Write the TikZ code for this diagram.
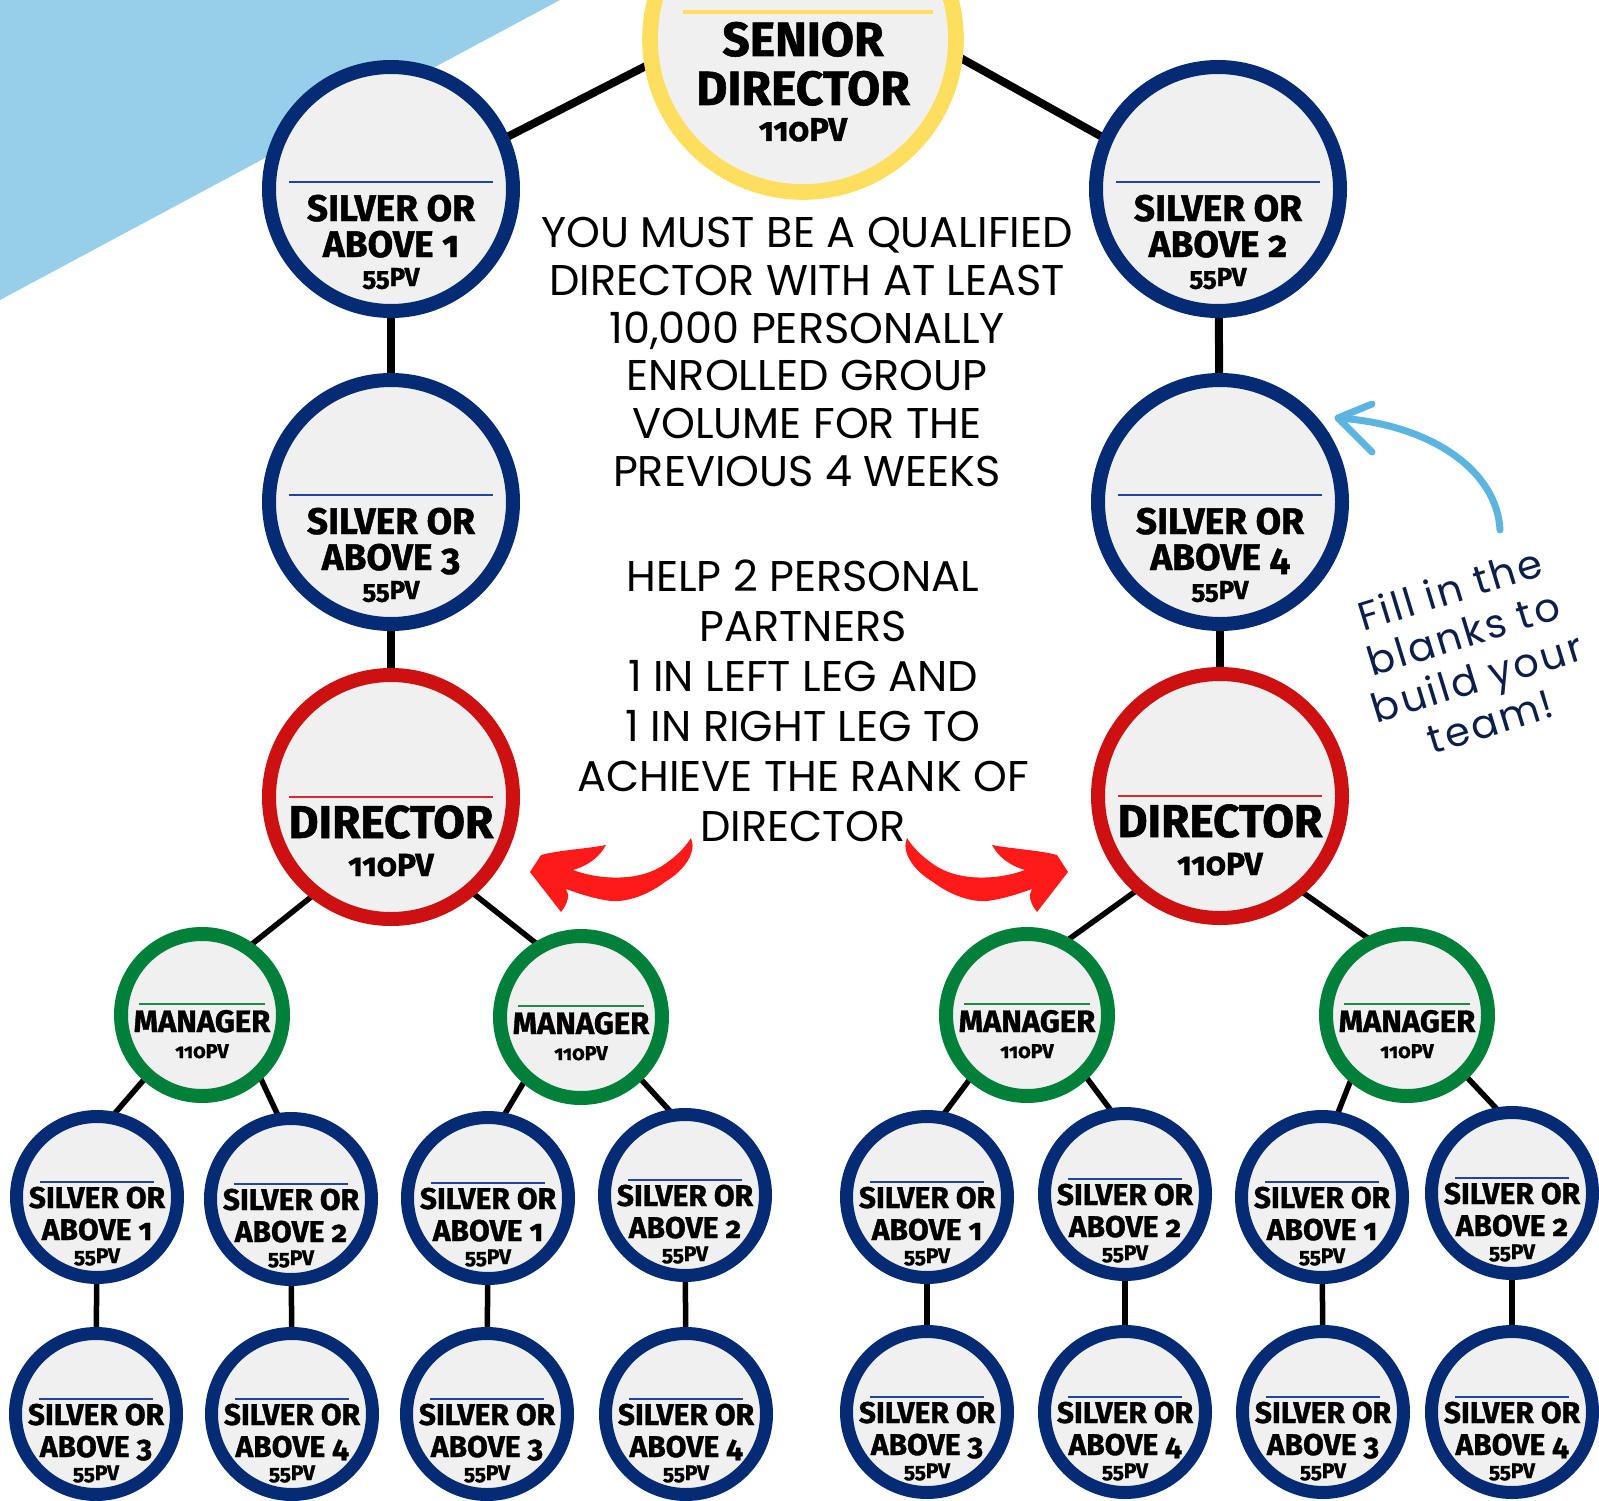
\documentclass[tikz,border=0pt]{standalone}
\usepackage{fontspec}
\setmainfont{Poppins}
\newfontfamily\lblfont[Numbers=OldStyle, BoldFeatures={FakeBold=1.2}]{Fira Sans}
\newfontfamily\bodyfont{Poppins}
\newfontfamily\handfont[LetterSpace=6]{Poppins}
\usetikzlibrary{backgrounds}

\definecolor{navy}{RGB}{4,43,116}
\definecolor{navyline}{RGB}{30,70,160}
\definecolor{dred}{RGB}{205,16,16}
\definecolor{dredline}{RGB}{225,40,40}
\definecolor{dgreen}{RGB}{0,128,56}
\definecolor{dgreenline}{RGB}{30,140,70}
\definecolor{sdyellow}{RGB}{254,222,94}
\definecolor{cfill}{RGB}{240,240,240}
\definecolor{skyblue}{RGB}{151,207,234}
\definecolor{arrowred}{RGB}{255,26,26}
\definecolor{arrowblue}{RGB}{92,180,224}
\definecolor{handnavy}{RGB}{12,30,75}

\newcommand\fSBig{\lblfont\bfseries\fontsize{37}{40}\selectfont}
\newcommand\fPVBig{\lblfont\bfseries\fontsize{26}{28}\selectfont}
\newcommand\fSSmall{\lblfont\bfseries\fontsize{30}{32}\selectfont}
\newcommand\fPVSmall{\lblfont\bfseries\fontsize{21}{23}\selectfont}
\newcommand\fDir{\lblfont\bfseries\fontsize{46}{48}\selectfont}
\newcommand\fPVDir{\lblfont\bfseries\fontsize{32}{34}\selectfont}
\newcommand\fMgr{\lblfont\bfseries\fontsize{31}{33}\selectfont}
\newcommand\fPVMgr{\lblfont\bfseries\fontsize{20}{22}\selectfont}
\newcommand\fSD{\lblfont\bfseries\fontsize{48}{50}\selectfont}
\newcommand\fPVSD{\lblfont\bfseries\fontsize{33}{35}\selectfont}

\tikzset{
  ring/.style={circle, fill=cfill, inner sep=0pt, outer sep=0pt},
  bigsilver/.style={ring, draw=navy, line width=14pt, minimum size=244pt},
  smallsilver/.style={ring, draw=navy, line width=13pt, minimum size=161pt},
  dirring/.style={ring, draw=dred, line width=14pt, minimum size=244pt},
  mgrring/.style={ring, draw=dgreen, line width=14pt, minimum size=162pt},
  sdring/.style={ring, draw=sdyellow, line width=15.6pt, minimum size=306pt},
  lbl/.style={anchor=base, inner sep=0pt, outer sep=0pt, text=black},
  bodytxt/.style={anchor=base, inner sep=0pt, font=\bodyfont\fontsize{43}{48}\selectfont, text=black},
  thickconn/.style={line width=8pt, black},
  thinconn/.style={line width=5.5pt, black},
}

\newcommand\SilverBig[4]{%
  \node[bigsilver] (#1) at (#2,#3) {};
  \draw[navyline, line width=2.5pt] ({#2-102},{#3-7}) -- ({#2+102},{#3-7});
  \node[lbl, font=\fSBig] (#1a) at (#2,{#3+32}) {SILVER OR};
  \node[lbl, font=\fSBig] (#1b) at (#2,{#3+68}) {ABOVE #4};
  \node[lbl, font=\fPVBig] (#1c) at (#2,{#3+97}) {55PV};
}
\newcommand\SilverSmall[4]{%
  \node[smallsilver] (#1) at (#2,#3) {};
  \draw[navyline, line width=2.2pt] ({#2-57},{#3-15}) -- ({#2+57},{#3-15});
  \node[lbl, font=\fSSmall] (#1a) at (#2,{#3+11}) {SILVER OR};
  \node[lbl, font=\fSSmall] (#1b) at (#2,{#3+43}) {ABOVE #4};
  \node[lbl, font=\fPVSmall] (#1c) at (#2,{#3+66}) {55PV};
}
\newcommand\MgrNode[3]{%
  \node[mgrring] (#1) at (#2,#3) {};
  \draw[dgreenline, line width=2.2pt] ({#2-63},{#3-11}) -- ({#2+63},{#3-11});
  \node[lbl, font=\fMgr] (#1a) at (#2,{#3+17}) {MANAGER};
  \node[lbl, font=\fPVMgr] (#1b) at (#2,{#3+43}) {110PV};
}
\newcommand\DirNode[3]{%
  \node[dirring] (#1) at (#2,#3) {};
  \draw[dredline, line width=2.2pt] ({#2-102},{#3}) -- ({#2+102},{#3});
  \node[lbl, font=\fDir] (#1a) at (#2,{#3+41}) {DIRECTOR};
  \node[lbl, font=\fPVDir] (#1b) at (#2,{#3+79}) {110PV};
}

\begin{document}
\begin{tikzpicture}[x=1pt,y=-1pt]
\useasboundingbox (0,0) rectangle (1599,1501);
\clip (0,0) rectangle (1599,1501);
\begin{pgfonlayer}{background}
  \fill[skyblue] (0,0) -- (560,0) -- (0,300) -- cycle;
\end{pgfonlayer}

% senior director
\node[sdring] (SD) at (803,39) {};
\draw[sdyellow, line width=4.5pt] (683,12) -- (933,12);
\node[lbl, font=\fSD] (SDa) at (803,56) {SENIOR};
\node[lbl, font=\fSD] (SDb) at (803,105) {DIRECTOR};
\node[lbl, font=\fPVSD] (SDc) at (803,141) {110PV};

\SilverBig{SA}{391}{189}{1}
\SilverBig{SB}{1218}{189}{2}
\SilverBig{SC}{391}{502}{3}
\SilverBig{SE}{1220}{502}{4}
\DirNode{DL}{391}{797}
\DirNode{DR}{1220}{796}
\MgrNode{MA}{202}{1015}
\MgrNode{MB}{581}{1017}
\MgrNode{MC}{1027}{1015}
\MgrNode{MD}{1407}{1015}

\SilverSmall{A1}{97}{1197}{1}
\SilverSmall{A2}{291}{1199}{2}
\SilverSmall{A3}{96}{1414}{3}
\SilverSmall{A4}{292}{1414}{4}
\SilverSmall{B1}{488}{1198}{1}
\SilverSmall{B2}{685}{1195}{2}
\SilverSmall{B3}{487}{1414}{3}
\SilverSmall{B4}{686}{1414}{4}
\SilverSmall{C1}{927}{1197}{1}
\SilverSmall{C2}{1125}{1194}{2}
\SilverSmall{C3}{927}{1412}{3}
\SilverSmall{C4}{1125}{1412}{4}
\SilverSmall{D1}{1322}{1197}{1}
\SilverSmall{D2}{1512}{1193}{2}
\SilverSmall{D3}{1323}{1412}{3}
\SilverSmall{D4}{1512}{1412}{4}

\begin{pgfonlayer}{background}
  \draw[thickconn] (SA.24) -- (SD.189);
  \draw[thickconn] (SD.-6) -- (SB.156);
  \draw[thickconn] (SA) -- (SC);
  \draw[thickconn] (SC) -- (DL);
  \draw[thickconn] (SB) -- (SE);
  \draw[thickconn] (SE) -- (DR);
  \draw[thinconn] (DL.232) -- (MA.56);
  \draw[thinconn] (DL.310) -- (MB.120);
  \draw[thinconn] (DR.229) -- (MC.63);
  \draw[thinconn] (DR.310) -- (MD.115);
  \foreach \m/\l/\r/\lb/\rb in {MA/A1/A2/A3/A4, MB/B1/B2/B3/B4, MC/C1/C2/C3/C4, MD/D1/D2/D3/D4}{
    \draw[thinconn] (\m.228) -- (\l.80);
    \draw[thinconn] (\m.-46) -- (\r.98);
    \draw[thinconn] (\l) -- (\lb);
    \draw[thinconn] (\r) -- (\rb);
  }
\end{pgfonlayer}

% central text
\foreach \txt/\yy [count=\i] in {{YOU MUST BE A QUALIFIED}/247, {DIRECTOR WITH AT LEAST}/295, {10,000 PERSONALLY}/343, {ENROLLED GROUP}/390, {VOLUME FOR THE}/438, {PREVIOUS 4 WEEKS}/486}
  \node[bodytxt] (p\i) at (807,\yy) {\txt};
\foreach \txt/\yy [count=\i] in {{HELP 2 PERSONAL}/591, {PARTNERS}/641, {1 IN LEFT LEG AND}/691, {1 IN RIGHT LEG TO}/741, {ACHIEVE THE RANK OF}/791, {DIRECTOR}/841}
  \node[bodytxt] (q\i) at (803,\yy) {\txt};

% red arrows
\fill[arrowred] (530,872) -- (541,855) .. controls (560,850) and (585,849) .. (606,845)
  .. controls (600,856) and (590,865) .. (573,870)
  .. controls (600,880) and (640,882) .. (665,864)
  .. controls (678,855) and (686,846) .. (691,838)
  .. controls (697,852) and (685,870) .. (665,882)
  .. controls (645,897) and (625,902) .. (611,901)
  .. controls (595,899) and (580,894) .. (566,889)
  .. controls (570,895) and (568,903) .. (561,912) -- cycle;
\begin{scope}[shift={(1598,0)}, xscale=-1]
\fill[arrowred] (530,872) -- (541,855) .. controls (560,850) and (585,849) .. (606,845)
  .. controls (600,856) and (590,865) .. (573,870)
  .. controls (600,880) and (640,882) .. (665,864)
  .. controls (678,855) and (686,846) .. (691,838)
  .. controls (697,852) and (685,870) .. (665,882)
  .. controls (645,897) and (625,902) .. (611,901)
  .. controls (595,899) and (580,894) .. (566,889)
  .. controls (570,895) and (568,903) .. (561,912) -- cycle;
\end{scope}

% blue arrow and note
\coordinate (bstart) at (1500,530);
\coordinate (btip) at (1338,418);
\draw[arrowblue, line width=7pt, line cap=round] (bstart) .. controls (1497,470) and (1430,424) .. (btip);
\draw[arrowblue, line width=7pt, line cap=round, line join=round] (1372,404) -- (btip) -- (1372,452);
\node[font=\handfont\fontsize{40}{46}\selectfont, text=handnavy, align=center, rotate=17, inner sep=0pt] (note) at (1470,655) {Fill in the\\blanks to\\build your\\team!};
\end{tikzpicture}
\end{document}
